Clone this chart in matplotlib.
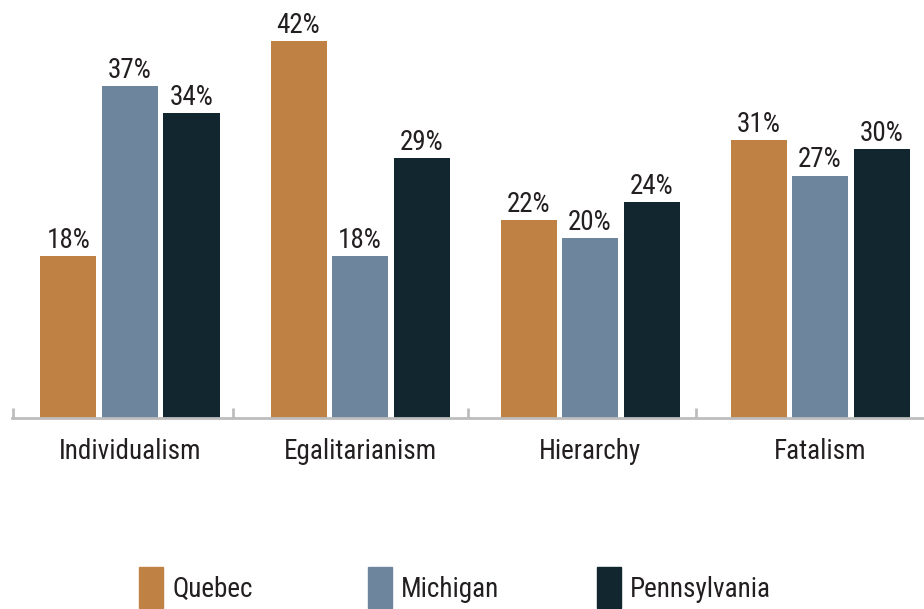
import matplotlib
matplotlib.use("Agg")
import matplotlib.pyplot as plt
from matplotlib import font_manager
from matplotlib.patches import Rectangle
import numpy as np

categories = ["Individualism", "Egalitarianism", "Hierarchy", "Fatalism"]
series_names = ["Quebec", "Michigan", "Pennsylvania"]
quebec = [18, 42, 22, 31]
michigan = [37, 18, 20, 27]
pennsylvania = [34, 29, 24, 30]
values = [quebec, michigan, pennsylvania]
colors = ["#C08244", "#6E869D", "#12262F"]

names = {f.name for f in font_manager.fontManager.ttflist}
family = "Roboto Condensed" if "Roboto Condensed" in names else "Roboto"
plt.rcParams["font.family"] = [family, "DejaVu Sans"]
txt_color = "#231F20"
FS = 19.5

W, H = 924, 609
fig = plt.figure(figsize=(W / 100, H / 100), dpi=100)
# axes spans pixel x 12..924, y 0..418 (from top)
ax = fig.add_axes([12 / W, (H - 418) / H, (W - 12) / W, 418 / H])

x = np.arange(len(categories))
step = 61.5 / 230
width = 56 / 230
for i, (vals, col, name) in enumerate(zip(values, colors, series_names)):
    pos = x + (i - 1) * step
    bars = ax.bar(pos, vals, width=width, color=col, label=name)
    for b, v in zip(bars, vals):
        ax.annotate(f"{v}%", (b.get_x() + b.get_width() / 2, v),
                    xytext=(0, 5.8), textcoords="offset points",
                    ha="center", va="baseline", fontsize=FS, color=txt_color)

ax.set_xlim(-0.513, 3.452)
ax.set_ylim(0, 418 / 8.98)
for s in ["top", "right", "left"]:
    ax.spines[s].set_visible(False)
ax.spines["bottom"].set_color("#BDBDBD")
ax.spines["bottom"].set_linewidth(2)
ax.set_yticks([])
ax.set_xticks([])
# group separator ticks
for tx in [-0.509, 0.448, 1.47, 2.462]:
    ax.plot([tx, tx], [0, 1.1], color="#BDBDBD", lw=2, clip_on=False,
            solid_capstyle="butt")
for xi, c in zip(x, categories):
    ax.annotate(c, (xi, 0), xytext=(0, -29.5), textcoords="offset points",
                ha="center", va="baseline", fontsize=FS, color=txt_color)

# legend
leg_x = [139, 368, 597]
for lx, name, col in zip(leg_x, series_names, colors):
    fig.add_artist(Rectangle((lx / W, 1 / H), 24 / W, 41 / H, transform=fig.transFigure,
                             color=col))
    fig.text((lx + 33) / W, (H - 597) / H, name, ha="left", va="baseline",
             fontsize=FS, color=txt_color)

fig.savefig("out.png", dpi=100)
